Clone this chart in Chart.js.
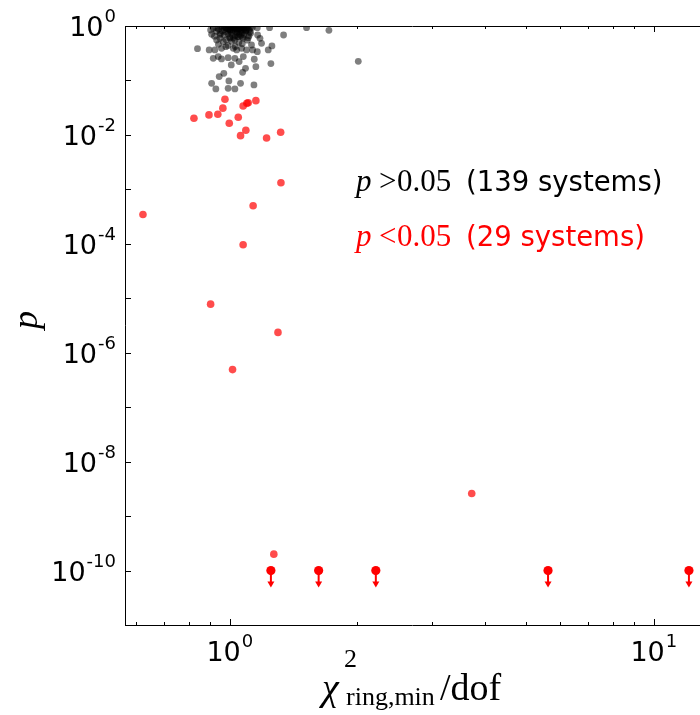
<!DOCTYPE html>
<html><head><meta charset="utf-8">
<script src="https://cdn.jsdelivr.net/npm/chart.js@4/dist/chart.umd.min.js"></script>
<style>html,body{margin:0;padding:0;background:#fff;overflow:hidden}canvas{display:block}</style>
</head><body>
<canvas id="c" width="700" height="715" style="width:700px;height:715px"></canvas>
<script>
// p > 0.05 systems (139)
const blackX = [0.901,0.914,0.931,0.906,0.948,0.983,1.000,1.019,1.038,1.056,
1.076,1.095,1.115,1.161,1.241,1.517,1.713,1.339,1.163,1.178,
0.948,0.931,0.965,1.000,1.028,1.047,1.076,1.105,1.125,1.188,
1.257,0.839,0.894,0.922,0.956,0.979,1.019,1.038,1.066,1.095,
1.132,1.161,1.232,0.914,0.939,0.956,0.991,1.028,1.052,1.076,
1.142,1.250,1.152,1.008,1.089,1.072,0.968,0.944,0.995,1.060,
0.906,0.927,0.991,1.028,1.140,2.009,
0.95,0.97,0.99,1.00,1.01,1.02,1.03,1.04,1.05,1.06,1.07,1.08,1.09,1.10,1.12,
0.96,0.98,1.00,1.01,1.02,1.03,1.04,1.05,1.06,1.07,1.08,1.10,1.13,
0.94,0.97,0.99,1.00,1.02,1.03,1.04,1.05,1.06,1.08,1.09,1.11,
0.93,0.96,0.98,1.00,1.01,1.03,1.04,1.06,1.07,1.09,1.12,
0.95,0.97,0.99,1.01,1.03,1.05,1.06,1.08,1.11,
0.92,1.00,1.02,1.04,1.07,
0.98,1.01,1.05,1.07,0.94,0.99,1.03,1.10];
const blackY = [0.845,0.906,0.932,0.703,0.733,0.906,0.845,0.932,0.881,0.906,
0.932,0.845,0.787,0.932,0.932,0.932,0.833,0.684,0.684,0.594,
0.594,0.553,0.516,0.594,0.553,0.637,0.594,0.611,0.448,0.481,
0.430,0.384,0.363,0.363,0.389,0.418,0.389,0.363,0.389,0.363,
0.363,0.338,0.363,0.255,0.274,0.248,0.262,0.255,0.222,0.274,
0.245,0.204,0.179,0.193,0.167,0.141,0.135,0.118,0.098,0.0887,
0.0887,0.0698,0.0718,0.0698,0.0827,0.225,
0.98,0.99,0.97,0.99,0.98,0.99,0.97,0.99,0.98,0.96,0.99,0.97,0.95,0.98,0.96,
0.94,0.92,0.95,0.93,0.91,0.94,0.92,0.95,0.90,0.93,0.91,0.92,0.94,
0.88,0.87,0.89,0.86,0.85,0.88,0.84,0.87,0.83,0.86,0.82,0.85,
0.80,0.81,0.78,0.80,0.77,0.79,0.76,0.78,0.75,0.79,0.74,
0.70,0.68,0.72,0.69,0.66,0.71,0.67,0.70,0.66,
0.65,0.62,0.60,0.64,0.62,
0.56,0.52,0.50,0.47,0.46,0.44,0.42,0.55];
// p < 0.05 systems (24 measured + 5 upper limits = 29)
const redX = [0.823,0.893,0.937,0.963,0.974,0.997,1.047,1.060,1.075,1.097,1.105,1.091,
1.152,1.221,1.318,1.320,1.135,0.624,1.075,0.901,1.299,1.015,3.72,1.27];
const redY = [0.0202,0.0233,0.0240,0.031,0.0452,0.0164,0.0211,0.0097,0.034,0.038,0.039,0.0122,
0.0426,0.0088,0.0112,0.00132,5.0e-4,3.46e-4,9.6e-5,7.8e-6,2.36e-6,4.9e-7,2.6e-9,2.0e-10];
const limitX = [1.25,1.62,2.21,5.63,12.1];
const limitY = [1e-10,1e-10,1e-10,1e-10,1e-10];

const xRange = [0.566, 12.85];
const yRange = [1e-11, 1];
const xMajorTicks = [1, 10];
const xMinorTicks = [0.6,0.7,0.8,0.9,2,3,4,5,6,7,8,9];
const xLabelExps = [0, 1];
const yTickExps = [0,-1,-2,-3,-4,-5,-6,-7,-8,-9,-10,-11];
const yLabelExps = [0,-2,-4,-6,-8,-10];
const legendLines = [
  {rel:'>', val:'0.05', txt:'(139 systems)', color:'#000000'},
  {rel:'<', val:'0.05', txt:'(29 systems)', color:'#ff0000'}
];

const toPts = (xs, ys) => xs.map((x,i)=>({x:x, y:ys[i]}));

const SANS = '"DejaVu Sans"';
const SERIF = '"Liberation Serif"';

function drawPow(ctx, exp, x, baseline, align){
  const base='10', sup=String(exp);
  ctx.font = '27px ' + SANS;
  const wb = ctx.measureText(base).width;
  ctx.font = '18px ' + SANS;
  const ws = ctx.measureText(sup).width;
  const total = wb + ws + 1;
  let sx = align === 'right' ? x - total : x - total/2;
  ctx.textAlign = 'left';
  ctx.textBaseline = 'alphabetic';
  ctx.font = '27px ' + SANS;
  ctx.fillText(base, sx, baseline);
  ctx.font = '18px ' + SANS;
  ctx.fillText(sup, sx + wb + 1, baseline - 14);
}

const axesPlugin = {
  id: 'axesPlugin',
  afterDatasetsDraw(chart){
    const ctx = chart.ctx;
    const meta = chart.getDatasetMeta(2);
    ctx.save();
    ctx.strokeStyle = '#ff0000';
    ctx.fillStyle = '#ff0000';
    ctx.lineWidth = 2;
    meta.data.forEach(pt => {
      const x = pt.x, y = pt.y;
      ctx.beginPath(); ctx.moveTo(x, y); ctx.lineTo(x, y+12); ctx.stroke();
      ctx.beginPath(); ctx.moveTo(x-3.5, y+11); ctx.lineTo(x+3.5, y+11); ctx.lineTo(x, y+17); ctx.closePath(); ctx.fill();
    });
    ctx.restore();
  },
  afterDraw(chart){
    const ctx = chart.ctx, a = chart.chartArea, xs = chart.scales.x, ys = chart.scales.y;
    ctx.save();
    ctx.strokeStyle = '#000'; ctx.lineWidth = 1;
    ctx.beginPath();
    ctx.moveTo(a.left+0.5, a.top); ctx.lineTo(a.left+0.5, a.bottom+0.5);
    ctx.moveTo(a.left, a.bottom+0.5); ctx.lineTo(a.right, a.bottom+0.5);
    ctx.moveTo(a.left, a.top+0.5); ctx.lineTo(a.right, a.top+0.5);
    ctx.stroke();
    // x ticks (inward, bottom and top)
    ctx.beginPath();
    xMajorTicks.forEach(v => { const px = Math.round(xs.getPixelForValue(v))+0.5;
      ctx.moveTo(px, a.bottom); ctx.lineTo(px, a.bottom-6);
      ctx.moveTo(px, a.top); ctx.lineTo(px, a.top+6); });
    xMinorTicks.forEach(v => { const px = Math.round(xs.getPixelForValue(v))+0.5;
      ctx.moveTo(px, a.bottom); ctx.lineTo(px, a.bottom-3);
      ctx.moveTo(px, a.top); ctx.lineTo(px, a.top+3); });
    yTickExps.forEach(e => { const py = Math.round(ys.getPixelForValue(Math.pow(10,e)))+0.5;
      ctx.moveTo(a.left, py); ctx.lineTo(a.left+6, py); });
    ctx.stroke();
    // tick labels
    ctx.fillStyle = '#000';
    xLabelExps.forEach(e => drawPow(ctx, e, xs.getPixelForValue(Math.pow(10,e)), 661, 'center'));
    yLabelExps.forEach(e => drawPow(ctx, e === 0 ? 0 : '-' + Math.abs(e), 116, ys.getPixelForValue(Math.pow(10,e)) + 10, 'right'));
    // y axis title
    ctx.save();
    ctx.translate(37, 320);
    ctx.rotate(-Math.PI/2);
    ctx.font = 'italic 36px ' + SERIF;
    ctx.textAlign = 'center'; ctx.textBaseline = 'alphabetic';
    ctx.fillText('p', 0, 0);
    ctx.restore();
    // x axis title
    ctx.textAlign = 'left'; ctx.textBaseline = 'alphabetic';
    ctx.font = 'italic 38px ' + SERIF;
    ctx.fillText('χ', 322, 700);
    ctx.font = '26px ' + SERIF;
    ctx.fillText('2', 344, 667);
    ctx.fillText('ring,min', 346, 705);
    ctx.font = '38px ' + SERIF;
    ctx.fillText('/dof', 440, 700);
    // legend text
    const baselines = [191, 246];
    legendLines.forEach((L, i) => {
      const b = baselines[i];
      ctx.fillStyle = L.color;
      ctx.font = 'italic 31px ' + SERIF;
      ctx.fillText('p', 356, b);
      ctx.font = '31px ' + SERIF;
      ctx.fillText(L.rel, 379, b);
      ctx.fillText(L.val, 397, b);
      ctx.font = '27.5px ' + SANS;
      ctx.fillText(L.txt, 466, b);
    });
    ctx.restore();
  }
};

new Chart(document.getElementById('c'), {
  type: 'scatter',
  data: {
    datasets: [
      {label:'p>0.05', data: toPts(blackX, blackY), backgroundColor:'rgba(0,0,0,0.5)', borderWidth:0, pointRadius:3.4, clip:0},
      {label:'p<0.05', data: toPts(redX, redY), backgroundColor:'rgba(255,0,0,0.7)', borderWidth:0, pointRadius:3.8, clip:0},
      {label:'limits', data: toPts(limitX, limitY), backgroundColor:'#ff0000', borderWidth:0, pointRadius:4.6, clip:0}
    ]
  },
  options: {
    responsive: false,
    devicePixelRatio: 1,
    animation: false,
    layout: { autoPadding: false, padding: { left:125, top:26, right:0, bottom:90 } },
    plugins: { legend:{display:false}, tooltip:{enabled:false} },
    scales: {
      x: { type:'logarithmic', min:xRange[0], max:xRange[1], display:false },
      y: { type:'logarithmic', min:yRange[0], max:yRange[1], display:false }
    }
  },
  plugins: [axesPlugin]
});
</script>
</body></html>
